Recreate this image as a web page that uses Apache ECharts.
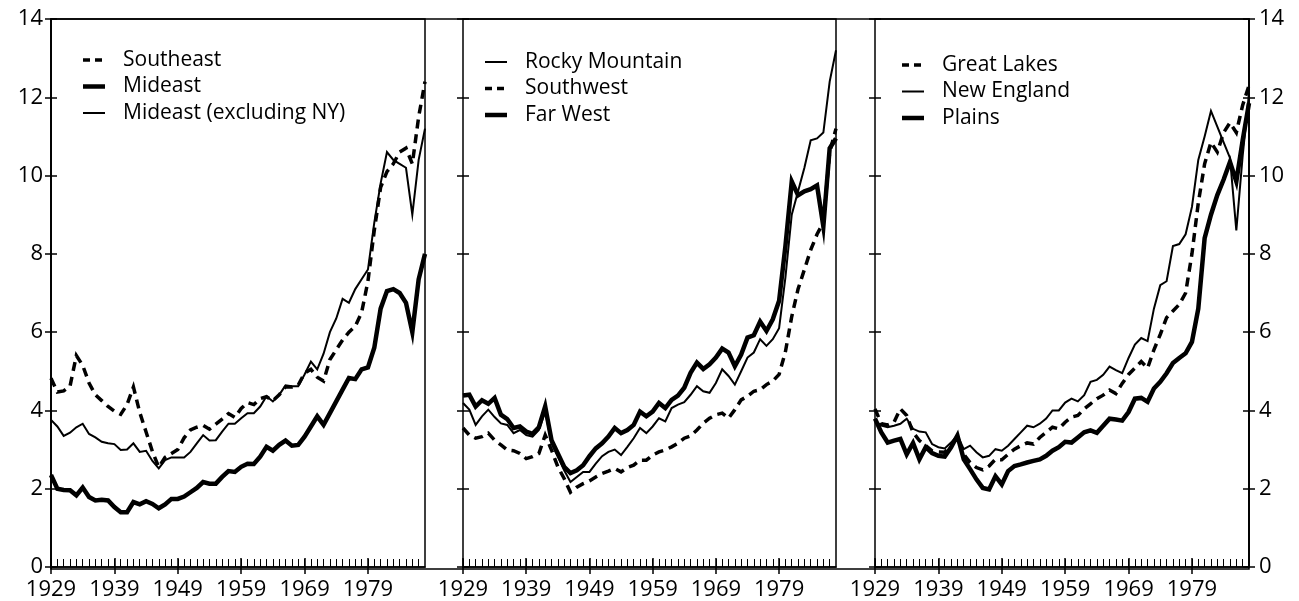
<!DOCTYPE html>
<html>
<head>
<meta charset="utf-8">
<script src="https://cdn.jsdelivr.net/npm/echarts@6/dist/echarts.min.js"></script>
<style>
  html, body { margin: 0; padding: 0; background: #fff; }
  #chart { width: 1299px; height: 601px; }
</style>
</head>
<body>
<div id="chart"></div>
<script>
// years on the x axis, 1929-1988
const years = [
  1929, 1930, 1931, 1932, 1933, 1934, 1935, 1936, 1937, 1938,
  1939, 1940, 1941, 1942, 1943, 1944, 1945, 1946, 1947, 1948,
  1949, 1950, 1951, 1952, 1953, 1954, 1955, 1956, 1957, 1958,
  1959, 1960, 1961, 1962, 1963, 1964, 1965, 1966, 1967, 1968,
  1969, 1970, 1971, 1972, 1973, 1974, 1975, 1976, 1977, 1978,
  1979, 1980, 1981, 1982, 1983, 1984, 1985, 1986, 1987, 1988
]
const decadeLabels = [1929, 1939, 1949, 1959, 1969, 1979]
const yearTicks = years.slice(0, 59)

// panel 1
const southeast = [
  4.82, 4.47, 4.50, 4.62, 5.40, 5.15, 4.70, 4.40, 4.25, 4.10,
  3.98, 3.90, 4.15, 4.60, 3.95, 3.45, 2.95, 2.55, 2.80, 2.90,
  3.00, 3.30, 3.50, 3.57, 3.62, 3.52, 3.65, 3.78, 3.92, 3.82,
  4.05, 4.20, 4.15, 4.30, 4.35, 4.25, 4.40, 4.60, 4.60, 4.65,
  4.95, 5.05, 4.85, 4.75, 5.30, 5.55, 5.80, 6.00, 6.15, 6.50,
  7.30, 8.60, 9.70, 10.10, 10.30, 10.60, 10.70, 10.30, 11.50, 12.40
]
const mideast = [
  2.35, 2.00, 1.97, 1.96, 1.83, 2.03, 1.79, 1.70, 1.72, 1.70,
  1.53, 1.40, 1.40, 1.66, 1.60, 1.68, 1.61, 1.50, 1.60, 1.74,
  1.74, 1.80, 1.91, 2.02, 2.17, 2.13, 2.13, 2.30, 2.45, 2.43,
  2.56, 2.64, 2.63, 2.82, 3.07, 2.97, 3.12, 3.23, 3.10, 3.12,
  3.33, 3.59, 3.85, 3.63, 3.93, 4.23, 4.53, 4.83, 4.80, 5.05,
  5.10, 5.60, 6.60, 7.05, 7.10, 7.00, 6.75, 6.00, 7.35, 8.00
]
const mideastExNY = [
  3.76, 3.59, 3.35, 3.43, 3.57, 3.66, 3.40, 3.31, 3.20, 3.16,
  3.14, 2.99, 3.00, 3.16, 2.94, 2.97, 2.71, 2.52, 2.73, 2.80,
  2.80, 2.80, 2.94, 3.16, 3.37, 3.23, 3.24, 3.46, 3.66, 3.66,
  3.80, 3.93, 3.93, 4.10, 4.36, 4.23, 4.40, 4.64, 4.62, 4.62,
  4.92, 5.25, 5.05, 5.45, 6.00, 6.35, 6.85, 6.75, 7.10, 7.35,
  7.60, 8.80, 9.80, 10.60, 10.40, 10.30, 10.20, 9.00, 10.40, 11.20
]

// panel 2
const rockyMountain = [
  4.19, 4.02, 3.63, 3.85, 4.02, 3.83, 3.67, 3.63, 3.42, 3.50,
  3.37, 3.33, 3.50, 3.97, 3.16, 2.82, 2.47, 2.17, 2.30, 2.43,
  2.43, 2.64, 2.83, 2.94, 3.00, 2.86, 3.07, 3.29, 3.55, 3.42,
  3.59, 3.80, 3.72, 4.06, 4.15, 4.21, 4.40, 4.62, 4.49, 4.45,
  4.70, 5.05, 4.88, 4.66, 5.00, 5.35, 5.48, 5.82, 5.65, 5.82,
  6.10, 7.40, 9.00, 9.60, 10.20, 10.90, 10.95, 11.10, 12.40, 13.20
]
const southwest = [
  3.55, 3.37, 3.29, 3.33, 3.42, 3.24, 3.12, 2.99, 2.97, 2.90,
  2.77, 2.82, 2.90, 3.37, 2.99, 2.56, 2.26, 1.91, 2.04, 2.13,
  2.20, 2.30, 2.39, 2.45, 2.52, 2.43, 2.54, 2.60, 2.73, 2.73,
  2.86, 2.94, 2.99, 3.07, 3.16, 3.29, 3.35, 3.50, 3.67, 3.80,
  3.89, 3.93, 3.80, 4.02, 4.27, 4.36, 4.49, 4.53, 4.66, 4.75,
  4.92, 5.50, 6.40, 7.10, 7.60, 8.10, 8.50, 8.80, 10.60, 11.20
]
const farWest = [
  4.38, 4.40, 4.10, 4.26, 4.17, 4.32, 3.89, 3.78, 3.55, 3.59,
  3.46, 3.40, 3.57, 4.10, 3.24, 2.90, 2.56, 2.40, 2.47, 2.60,
  2.83, 3.03, 3.16, 3.33, 3.55, 3.42, 3.50, 3.63, 3.97, 3.85,
  3.97, 4.19, 4.06, 4.27, 4.38, 4.58, 4.96, 5.22, 5.06, 5.18,
  5.35, 5.58, 5.48, 5.13, 5.43, 5.86, 5.92, 6.27, 6.03, 6.33,
  6.80, 8.20, 9.85, 9.50, 9.60, 9.65, 9.75, 8.70, 10.70, 10.95
]

// panel 3
const greatLakes = [
  4.04, 3.66, 3.63, 3.70, 4.04, 3.87, 3.44, 3.23, 3.10, 2.97,
  2.94, 2.93, 3.10, 3.31, 2.88, 2.67, 2.54, 2.48, 2.58, 2.75,
  2.74, 2.88, 3.01, 3.10, 3.17, 3.14, 3.31, 3.44, 3.57, 3.53,
  3.70, 3.83, 3.87, 4.04, 4.17, 4.30, 4.39, 4.52, 4.43, 4.69,
  4.92, 5.08, 5.25, 5.08, 5.55, 5.94, 6.37, 6.54, 6.71, 7.00,
  8.00, 9.30, 10.30, 10.85, 10.60, 11.10, 11.35, 11.10, 11.80, 12.30
]
const newEngland = [
  3.74, 3.61, 3.57, 3.61, 3.66, 3.79, 3.53, 3.46, 3.44, 3.14,
  3.06, 3.03, 3.18, 3.37, 3.01, 3.10, 2.93, 2.80, 2.84, 3.01,
  2.97, 3.10, 3.27, 3.44, 3.61, 3.57, 3.66, 3.79, 4.00, 4.00,
  4.20, 4.30, 4.23, 4.39, 4.73, 4.78, 4.91, 5.12, 5.03, 4.95,
  5.34, 5.68, 5.85, 5.77, 6.60, 7.20, 7.30, 8.20, 8.25, 8.50,
  9.20, 10.40, 11.00, 11.65, 11.25, 10.85, 10.45, 8.60, 10.50, 12.10
]
const plains = [
  3.79, 3.44, 3.18, 3.23, 3.27, 2.88, 3.17, 2.75, 3.06, 2.91,
  2.84, 2.82, 3.06, 3.36, 2.75, 2.50, 2.24, 2.02, 1.98, 2.32,
  2.11, 2.45, 2.58, 2.62, 2.67, 2.71, 2.75, 2.84, 2.97, 3.06,
  3.20, 3.18, 3.31, 3.44, 3.49, 3.43, 3.61, 3.79, 3.77, 3.74,
  3.96, 4.30, 4.32, 4.22, 4.56, 4.73, 4.95, 5.21, 5.34, 5.46,
  5.75, 6.60, 8.40, 9.00, 9.50, 9.90, 10.35, 9.85, 10.90, 11.85
]

const FONT = "'Open Sans', sans-serif"
const INK = '#000'

// line looks
const THIN = { width: 2, dash: null }
const THICK = { width: 4.5, dash: null }
const DASH = { width: 3.5, dash: [9, 6] }

const pair = vals => years.map((y, i) => [y, vals[i]])

const makeSeries = (name, vals, style, panel) => ({
  name,
  type: 'line',
  xAxisIndex: panel,
  yAxisIndex: [0, 2, 3][panel],
  data: pair(vals),
  symbol: 'none',
  showSymbol: false,
  silent: true,
  color: INK,
  lineStyle: { color: INK, width: style.width, type: style.dash || 'solid', cap: 'butt', join: 'miter' }
})

const gridBox = (left, width) => ({
  left, top: 19, width, height: 550,
  show: true, borderColor: INK, borderWidth: 1.5, backgroundColor: 'transparent'
})

const mainX = gi => ({
  gridIndex: gi,
  type: 'value',
  position: 'bottom',
  min: 1929,
  max: 1988,
  axisLine: { show: true, onZero: false, lineStyle: { color: INK, width: 1.5 } },
  axisTick: { show: true, inside: true, length: 8, customValues: yearTicks, lineStyle: { color: INK, width: 1 } },
  axisLabel: { show: true, customValues: decadeLabels, color: INK, fontSize: 22, fontFamily: FONT, margin: 12, formatter: v => String(v) },
  splitLine: { show: false }
})

// decade ticks crossing the base line
const decadeX = gi => ({
  gridIndex: gi,
  type: 'value',
  position: 'bottom',
  min: 1929,
  max: 1988,
  offset: -9,
  axisLine: { show: false, onZero: false },
  axisTick: { show: true, inside: false, length: 16, customValues: decadeLabels, lineStyle: { color: INK, width: 1.5 } },
  axisLabel: { show: false },
  splitLine: { show: false }
})

const mainY = (gi, pos, labels) => ({
  gridIndex: gi,
  type: 'value',
  min: 0,
  max: 14,
  interval: 2,
  position: pos,
  axisLine: { show: true, onZero: false, lineStyle: { color: INK, width: 1.5 } },
  axisTick: { show: false },
  axisLabel: { show: labels, color: INK, fontSize: 22, fontFamily: FONT, margin: pos === 'left' ? 8 : 10 },
  splitLine: { show: false }
})

// ticks that cross the axis line
const tickY = (gi, pos) => ({
  gridIndex: gi,
  type: 'value',
  min: 0,
  max: 14,
  interval: 2,
  position: pos,
  offset: -6,
  axisLine: { show: false, onZero: false },
  axisTick: { show: true, length: 12, lineStyle: { color: INK, width: 1.5 } },
  axisLabel: { show: false },
  splitLine: { show: false }
})

// legend blocks drawn as graphics so the line samples match the series
const legendBlock = (x, y, items) => {
  const children = []
  items.forEach(([name, style], i) => {
    const cy = y + i * 26.5
    children.push({
      type: 'line',
      shape: { x1: x, y1: cy, x2: x + 22, y2: cy },
      style: { stroke: INK, lineWidth: style.width, lineDash: style.dash ? [7, 5] : null, lineCap: 'butt' }
    })
    children.push({
      type: 'text',
      style: { x: x + 40, y: cy, text: name, fill: INK, font: '21px ' + FONT, verticalAlign: 'middle' }
    })
  })
  return { type: 'group', silent: true, children }
}

const chart = echarts.init(document.getElementById('chart'), null, { renderer: 'canvas' })

chart.setOption({
  backgroundColor: '#fff',
  animation: false,
  grid: [
    gridBox(51, 374),
    gridBox(463, 373),
    gridBox(875, 374),
    gridBox(51, 1198)
  ],
  xAxis: [
    mainX(0), mainX(1), mainX(2),
    decadeX(0), decadeX(1), decadeX(2),
    { gridIndex: 3, type: 'value', show: false, min: 0, max: 1 }
  ],
  yAxis: [
    mainY(0, 'left', true),
    tickY(0, 'left'),
    tickY(1, 'left'),
    tickY(2, 'left'),
    mainY(2, 'right', true),
    tickY(2, 'right'),
    { gridIndex: 3, type: 'value', show: false, min: 0, max: 1 }
  ],
  graphic: [
    legendBlock(83, 60, [['Southeast', DASH], ['Mideast', THICK], ['Mideast (excluding NY)', THIN]]),
    legendBlock(485, 62, [['Rocky Mountain', THIN], ['Southwest', DASH], ['Far West', THICK]]),
    legendBlock(902, 65, [['Great Lakes', DASH], ['New England', THIN], ['Plains', THICK]])
  ],
  series: [
    makeSeries('Southeast', southeast, DASH, 0),
    makeSeries('Mideast', mideast, THICK, 0),
    makeSeries('Mideast (excluding NY)', mideastExNY, THIN, 0),
    makeSeries('Rocky Mountain', rockyMountain, THIN, 1),
    makeSeries('Southwest', southwest, DASH, 1),
    makeSeries('Far West', farWest, THICK, 1),
    makeSeries('Great Lakes', greatLakes, DASH, 2),
    makeSeries('New England', newEngland, THIN, 2),
    makeSeries('Plains', plains, THICK, 2)
  ]
})
</script>
</body>
</html>
